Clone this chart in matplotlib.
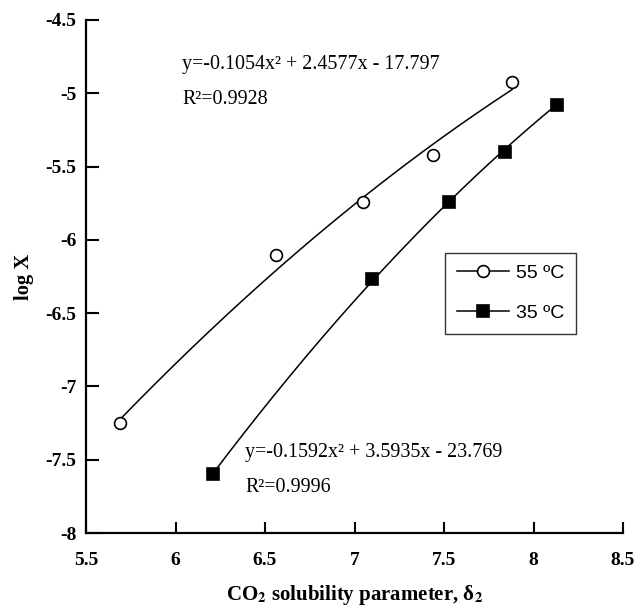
import numpy as np
import matplotlib
matplotlib.use("Agg")
import matplotlib.pyplot as plt

plt.rcParams['mathtext.fontset'] = 'stix'

# Data
x55 = [5.69, 6.56, 7.05, 7.44, 7.88]
y55 = [-7.25, -6.10, -5.74, -5.42, -4.92]
x35 = [6.21, 7.10, 7.53, 7.84, 8.13]
y35 = [-7.60, -6.27, -5.74, -5.40, -5.08]
coef55 = [-0.1054, 2.4577, -17.797]
coef35 = [-0.1592, 3.5935, -23.769]
labels = ['55 ºC', '35 ºC']
eq55 = ['y=-0.1054x² + 2.4577x - 17.797', 'R²=0.9928']
eq35 = ['y=-0.1592x² + 3.5935x - 23.769', 'R²=0.9996']
xticks = [5.5, 6, 6.5, 7, 7.5, 8, 8.5]
yticks = [-8, -7.5, -7, -6.5, -6, -5.5, -5, -4.5]

W, H = 637, 609
fig = plt.figure(figsize=(W / 100, H / 100), dpi=100)
ax = fig.add_axes([86/W, 1-533/H, (623-86)/W, (533-20)/H])

serif = 'Liberation Serif'
sans = 'Liberation Sans'

for xs, ys, coef, mk, fc, lab in [(x55, y55, coef55, 'o', 'white', labels[0]),
                                  (x35, y35, coef35, 's', 'black', labels[1])]:
    xx = np.linspace(min(xs), max(xs), 200)
    ax.plot(xx, np.polyval(coef, xx), color='black', lw=1.1, zorder=2)
    ax.plot(xs, ys, linestyle='none', marker=mk, mfc=fc, mec='black',
            mew=1.2, ms=8.5 if mk == 'o' else 9, zorder=3)
    ax.plot([], [], color='black', lw=1.1, marker=mk, mfc=fc, mec='black',
            mew=1.2, ms=8.5 if mk == 'o' else 9, label=lab)

ax.set_xlim(5.5, 8.5)
ax.set_ylim(-8, -4.5)
ax.set_xticks(xticks)
ax.set_yticks(yticks)
ax.set_xticklabels([('%g' % v) for v in xticks], fontfamily=serif, fontweight='bold', fontsize=14)
ax.set_yticklabels([('%g' % v) for v in yticks], fontfamily=serif, fontweight='bold', fontsize=14)
ax.tick_params(axis='x', direction='in', length=8, width=1.5, pad=14)
ax.tick_params(axis='y', direction='in', length=9, width=1.5, pad=7)
for s in ['top', 'right']:
    ax.spines[s].set_visible(False)
for s in ['left', 'bottom']:
    ax.spines[s].set_linewidth(1.6)

ax.set_ylabel('log X', fontfamily=serif, fontweight='bold', fontsize=14.8, labelpad=8)
ax.set_xlabel(r'CO$_\mathbf{2}$ solubility parameter, δ$_\mathbf{2}$', fontfamily=serif,
              fontweight='bold', fontsize=15, labelpad=10)

def px(xp, yp):
    return (xp / W, 1 - yp / H)

for (x0, y1, y2), lines in [((182, 65, 100), eq55), ((245, 452, 487), eq35)]:
    fig.text(*px(x0, y1), lines[0], fontfamily=serif, fontsize=14.4, va='center', ha='left')
    fig.text(*px(x0, y2), lines[1], fontfamily=serif, fontsize=14.4, va='center', ha='left')

leg = ax.legend(loc='upper left', bbox_to_anchor=((445-86)/537, 1-(253-20)/513),
                prop={'family': sans, 'size': 14}, frameon=True, fancybox=False,
                edgecolor='black', handlelength=2.7, labelspacing=1.15, borderpad=0.6,
                handletextpad=0.35, borderaxespad=0)
leg.get_frame().set_linewidth(1.0)

fig.savefig('out.png', dpi=100)
